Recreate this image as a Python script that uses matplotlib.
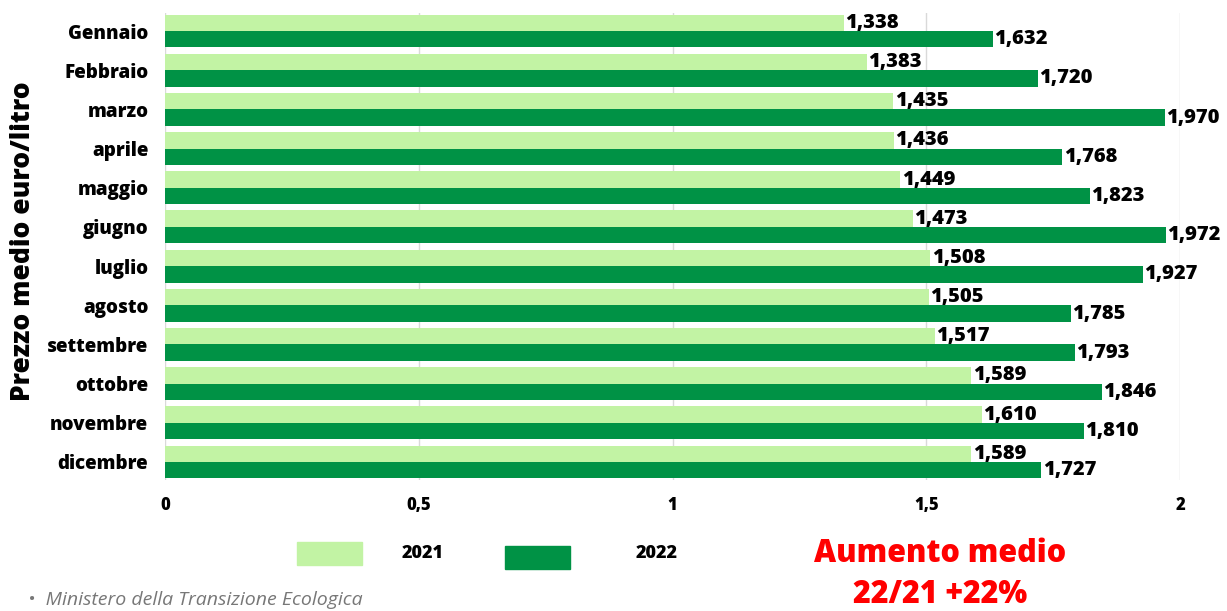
import matplotlib.pyplot as plt
import numpy as np

plt.rcParams['font.family'] = ['Open Sans', 'DejaVu Sans']

mesi = ["Gennaio", "Febbraio", "marzo", "aprile", "maggio", "giugno",
        "luglio", "agosto", "settembre", "ottobre", "novembre", "dicembre"]
prezzi_2021 = [1.338, 1.383, 1.435, 1.436, 1.449, 1.473,
               1.508, 1.505, 1.517, 1.589, 1.610, 1.589]
prezzi_2022 = [1.632, 1.720, 1.970, 1.768, 1.823, 1.972,
               1.927, 1.785, 1.793, 1.846, 1.810, 1.727]
xticks = [0, 0.5, 1, 1.5, 2]
xtick_labels = ["0", "0,5", "1", "1,5", "2"]

col21 = "#c2f3a4"
col22 = "#009245"
W = 800  # peso font

fig = plt.figure(figsize=(12.27, 6.11), dpi=100)
ax = fig.add_axes([0.1345, 0.2144, 0.8272, 0.7643])

y = np.arange(len(mesi))
h = 0.42
ax.barh(y - h / 2, prezzi_2021, height=h, color=col21, zorder=3)
ax.barh(y + h / 2, prezzi_2022, height=h, color=col22, zorder=3)

# etichette valori
for yy, v in zip(y - h / 2, prezzi_2021):
    ax.annotate(f"{v:.3f}".replace(".", ","), (v, yy), xytext=(1, 0),
                textcoords="offset points", va="center", ha="left",
                fontsize=14.5, fontweight=W, zorder=4)
for yy, v in zip(y + h / 2, prezzi_2022):
    ax.annotate(f"{v:.3f}".replace(".", ","), (v, yy), xytext=(1, 0),
                textcoords="offset points", va="center", ha="left",
                fontsize=14.5, fontweight=W, zorder=4)

ax.set_xlim(0, 2)
ax.set_ylim(11.46, -0.46)
ax.set_yticks(y)
ax.set_yticklabels(mesi, fontsize=13.5, fontweight=W)
ax.set_xticks(xticks)
ax.set_xticklabels(xtick_labels, fontsize=12, fontweight=W)
ax.tick_params(length=0)
ax.tick_params(axis="y", pad=12)
ax.tick_params(axis="x", pad=12)
ax.grid(axis="x", color="#d9d9d9", linewidth=1, zorder=0)
for s in ax.spines.values():
    s.set_visible(False)

fig.text(0.019, 0.605, "Prezzo medio euro/litro", rotation=90, ha="center",
         va="center", fontsize=19, fontweight=W)

# legenda
fig.patches.append(plt.Rectangle((297 / 1227, 1 - 565 / 611), 65 / 1227, 23 / 611,
                                 transform=fig.transFigure, color=col21))
fig.patches.append(plt.Rectangle((505 / 1227, 1 - 569 / 611), 65 / 1227, 23 / 611,
                                 transform=fig.transFigure, color=col22))
fig.text(423 / 1227, 1 - 554 / 611, "2021", ha="center", va="center",
         fontsize=13, fontweight=W)
fig.text(657 / 1227, 1 - 554 / 611, "2022", ha="center", va="center",
         fontsize=13, fontweight=W)

fig.text(940 / 1227, 1 - 554 / 611, "Aumento medio", ha="center", va="center",
         fontsize=22, fontweight=W, color="#ff0000")
fig.text(940 / 1227, 1 - 595 / 611, "22/21 +22%", ha="center", va="center",
         fontsize=22, fontweight=W, color="#ff0000")

fig.text(28 / 1227, 0.003, "•  Ministero della Transizione Ecologica", ha="left",
         va="bottom", fontsize=14, style="italic", color="#777777")

fig.savefig("out.png", dpi=100)
